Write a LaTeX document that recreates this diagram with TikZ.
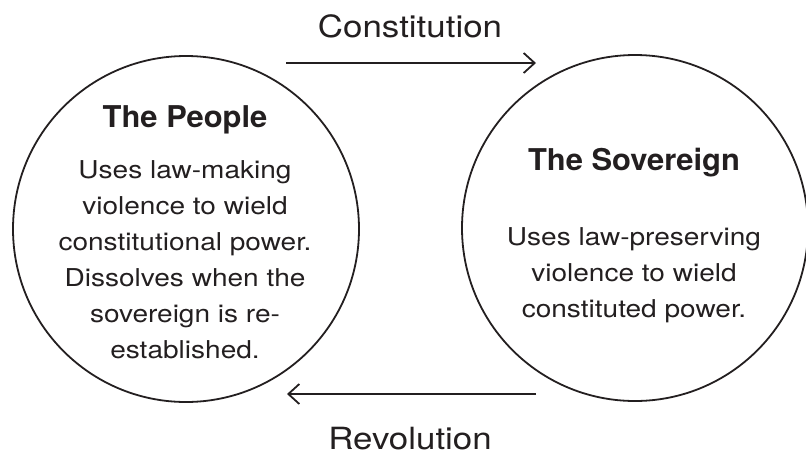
\documentclass[tikz,border=0pt]{standalone}
\usepackage{fontspec}
\setmainfont{TeX Gyre Heros}[FakeStretch=1.14]
\newfontfamily\headfont{TeX Gyre Heros}[FakeStretch=1.03]
\usetikzlibrary{arrows.meta}
\definecolor{ink}{HTML}{231F20}

\begin{document}
\begin{tikzpicture}[x=1pt, y=-1pt, every node/.style={text=ink, inner sep=0pt},
  party/.style={draw=ink, line width=1.8pt, circle, minimum size=346pt},
  title/.style={font=\headfont\bfseries\fontsize{30}{36}\selectfont, anchor=base},
  blurb/.style={font=\fontsize{24.6}{36}\selectfont, align=center, anchor=base},
  flow/.style={draw=ink, line width=1.8pt, -{Straight Barb[length=11pt, width=20pt]}},
  tag/.style={font=\fontsize{30.6}{36}\selectfont, anchor=base}]
  \useasboundingbox (0,0) rectangle (806,451);
  % the two parties
  \node[party] (people) at (186,229) {};
  \node[party] (sovereign) at (635,228) {};
  \node[title] (peopletitle) at (185,127) {The People};
  \node[blurb] (peopletext) at (185,358) {Uses law-making\\violence to wield\\constitutional power.\\Dissolves when the\\sovereign is re-\\established.};
  \node[title] (sovtitle) at (634,170) {The Sovereign};
  \node[blurb] (sovtext) at (634,317) {Uses law-preserving\\violence to wield\\constituted power.};
  % arrows between them
  \coordinate (constfrom) at (286,63);
  \coordinate (constto) at (536,63);
  \coordinate (revfrom) at (536,394);
  \coordinate (revto) at (287,394);
  \draw[flow] (constfrom) -- (constto);
  \draw[flow] (revfrom) -- (revto);
  \node[tag] (constitution) at (410,37) {Constitution};
  \node[tag] (revolution) at (410,449) {Revolution};
\end{tikzpicture}
\end{document}
